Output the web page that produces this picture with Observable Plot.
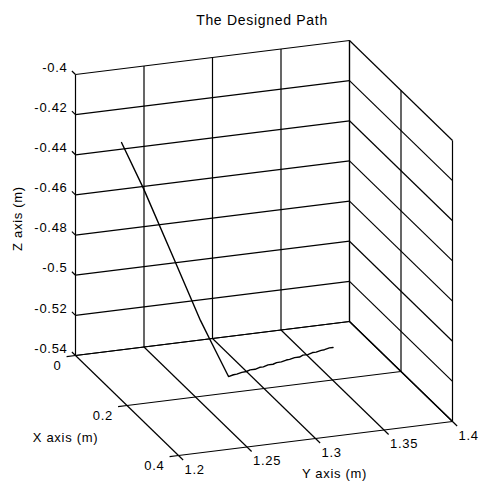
<!DOCTYPE html>
<html>
<head>
<meta charset="utf-8">
<script src="https://cdn.jsdelivr.net/npm/d3@7"></script>
<script src="https://cdn.jsdelivr.net/npm/@observablehq/plot@0.6"></script>
<style>
  html, body { margin: 0; padding: 0; background: #fff; }
  #chart svg { display: block; }
</style>
</head>
<body>
<div id="chart"></div>
<script>
// ---- data ----
const title = "The Designed Path";
const xLabel = "X axis (m)";
const yLabel = "Y axis (m)";
const zLabel = "Z axis (m)";

const xTicks = [0, 0.2, 0.4];
const yTicks = [1.2, 1.25, 1.3, 1.35, 1.4];
const zTicks = [-0.54, -0.52, -0.5, -0.48, -0.46, -0.44, -0.42, -0.4];
const xTickLabels = ["0", "0.2", "0.4"];
const yTickLabels = ["1.2", "1.25", "1.3", "1.35", "1.4"];
const zTickLabels = ["-0.54", "-0.52", "-0.5", "-0.48", "-0.46", "-0.44", "-0.42", "-0.4"];

// designed path (x, y, z in metres)
const pathX = [0.142, 0.142, 0.142, 0.142, 0.142, 0.142,
  0.140, 0.137, 0.135, 0.132, 0.130, 0.128, 0.125, 0.123, 0.120, 0.118, 0.116,
  0.113, 0.111, 0.108, 0.106, 0.104, 0.101, 0.099, 0.096, 0.094, 0.092, 0.089, 0.087, 0.085];
const pathY = [1.2069, 1.2229, 1.2441, 1.2645, 1.2718, 1.285,
  1.289, 1.292, 1.296, 1.300, 1.303, 1.307, 1.311, 1.314, 1.318, 1.322, 1.325,
  1.329, 1.333, 1.336, 1.340, 1.344, 1.347, 1.351, 1.355, 1.358, 1.362, 1.365, 1.369, 1.372];
const pathZ = [-0.4168, -0.441, -0.4762, -0.5103, -0.5209, -0.540,
  -0.5397, -0.5400, -0.5397, -0.5400, -0.5397, -0.5400, -0.5397, -0.5400, -0.5397, -0.5400, -0.5397,
  -0.5400, -0.5397, -0.5400, -0.5397, -0.5400, -0.5397, -0.5400, -0.5397, -0.5400, -0.5397, -0.5400, -0.5397, -0.5400];

// ---- 3D -> screen projection (orthographic, MATLAB-like view) ----
const xLim = [xTicks[0], xTicks[xTicks.length - 1]];
const yLim = [yTicks[0], yTicks[yTicks.length - 1]];
const zLim = [zTicks[0], zTicks[zTicks.length - 1]];
const O = [75, 355];                // screen of (xmin, ymin, zmin)
const EX = [103, 100];              // screen shift for full x range
const EY = [274, -34];              // screen shift for full y range
const EZ = [0, -281];               // screen shift for full z range
function proj(x, y, z) {
  const u = (x - xLim[0]) / (xLim[1] - xLim[0]);
  const v = (y - yLim[0]) / (yLim[1] - yLim[0]);
  const w = (z - zLim[0]) / (zLim[1] - zLim[0]);
  return [O[0] + u * EX[0] + v * EY[0] + w * EZ[0],
          O[1] + u * EX[1] + v * EY[1] + w * EZ[1]];
}
function seg(a, b) {
  const p = proj(...a), q = proj(...b);
  return {x1: p[0], y1: p[1], x2: q[0], y2: q[1]};
}

// grid lines on three walls
const grid = [];
// back wall x = xmin
for (const y of yTicks) grid.push(seg([xLim[0], y, zLim[0]], [xLim[0], y, zLim[1]]));
for (const z of zTicks) grid.push(seg([xLim[0], yLim[0], z], [xLim[0], yLim[1], z]));
// side wall y = ymax
for (const x of xTicks) grid.push(seg([x, yLim[1], zLim[0]], [x, yLim[1], zLim[1]]));
for (const z of zTicks) grid.push(seg([xLim[0], yLim[1], z], [xLim[1], yLim[1], z]));
// floor z = zmin
for (const y of yTicks) grid.push(seg([xLim[0], y, zLim[0]], [xLim[1], y, zLim[0]]));
for (const x of xTicks) grid.push(seg([x, yLim[0], zLim[0]], [x, yLim[1], zLim[0]]));

// tick marks
const ticks = [];
for (const z of zTicks) ticks.push(seg([xLim[0], yLim[0], z], [xLim[0] - 0.014, yLim[0], z]));
for (const x of xTicks) ticks.push(seg([x, yLim[0], zLim[0]], [x, yLim[0] - 0.0065, zLim[0]]));
for (const y of yTicks) ticks.push(seg([xLim[1], y, zLim[0]], [xLim[1] + 0.018, y, zLim[0]]));

// tick labels
const zLab = zTicks.map((z, i) => { const p = proj(xLim[0], yLim[0], z); return {x: p[0] - 8, y: p[1] - 7, t: zTickLabels[i]}; });
const xLab = xTicks.map((x, i) => { const p = proj(x, yLim[0], zLim[0]); return {x: p[0] - 14, y: p[1] + 10, t: xTickLabels[i]}; });
const yLab = yTicks.map((y, i) => { const p = proj(xLim[1], y, zLim[0]); return {x: p[0] + 6, y: p[1] + 14, t: yTickLabels[i]}; });

const path = pathX.map((x, i) => { const p = proj(x, pathY[i], pathZ[i]); return {px: p[0], py: p[1]}; });

const W = 480, H = 482;
const font = "Liberation Sans, Arial, Helvetica, sans-serif";

const chart = Plot.plot({
  width: W, height: H,
  margin: 0,
  x: {domain: [0, W], range: [0, W], axis: null},
  y: {domain: [0, H], range: [0, H], axis: null},
  style: {fontFamily: font, background: "white"},
  marks: [
    Plot.link(grid, {x1: "x1", y1: "y1", x2: "x2", y2: "y2", stroke: "#000", strokeWidth: 1.2}),
    Plot.link(ticks, {x1: "x1", y1: "y1", x2: "x2", y2: "y2", stroke: "#000", strokeWidth: 1.2}),
    Plot.line(path, {x: "px", y: "py", stroke: "#000", strokeWidth: 1.4, curve: "linear"}),
    Plot.text(zLab, {x: "x", y: "y", text: "t", textAnchor: "end", fontSize: 13, fill: "#000"}),
    Plot.text(xLab, {x: "x", y: "y", text: "t", textAnchor: "end", fontSize: 13, fill: "#000"}),
    Plot.text(yLab, {x: "x", y: "y", text: "t", textAnchor: "start", fontSize: 13, fill: "#000"}),
    Plot.text([title], {x: 261.5, y: 20.5, text: d => d, fontSize: 14, fill: "#000"}),
    Plot.text([xLabel], {x: 65, y: 437, text: d => d, fontSize: 13, fill: "#000"}),
    Plot.text([yLabel], {x: 334, y: 473, text: d => d, fontSize: 13, fill: "#000"}),
    Plot.text([zLabel], {x: 17, y: 218, text: d => d, fontSize: 13, rotate: -90, fill: "#000"})
  ]
});
chart.querySelectorAll("text").forEach(t => t.style.letterSpacing = "0.7px");
document.getElementById("chart").appendChild(chart);
</script>
</body>
</html>
